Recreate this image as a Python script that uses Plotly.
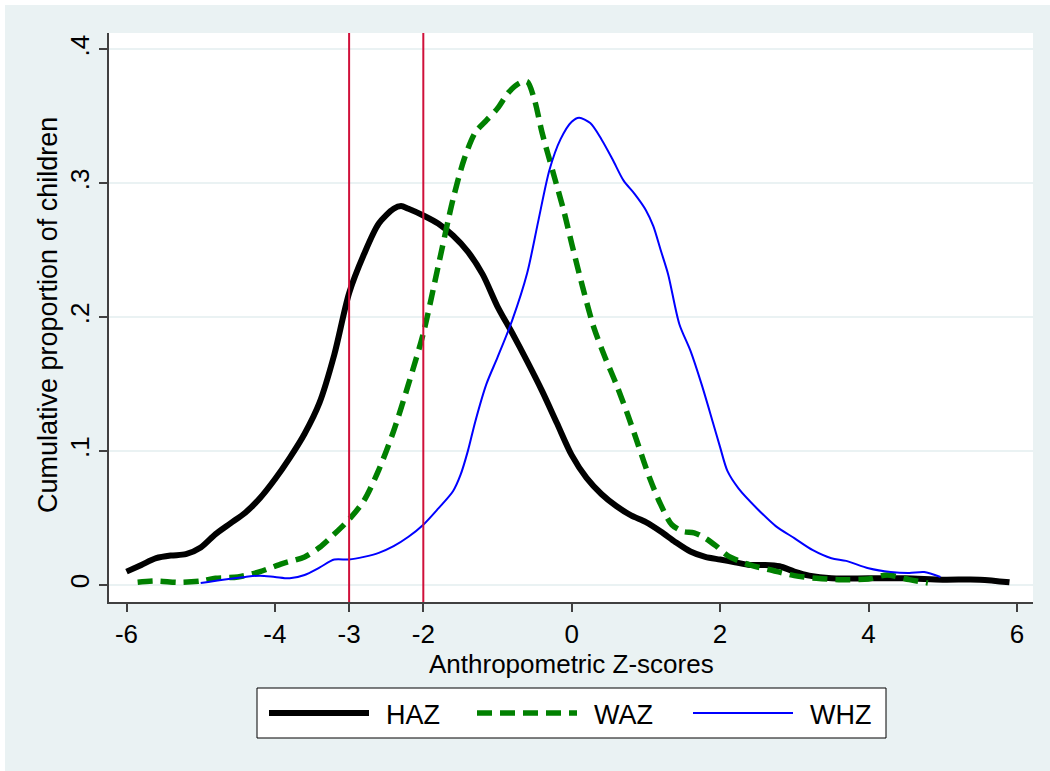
import plotly.graph_objects as go

# ---------------- data ----------------
haz_x = [-6.0, -5.8, -5.6, -5.4, -5.2, -5.0, -4.8, -4.6, -4.4, -4.2, -4.0, -3.8, -3.6, -3.4,
         -3.2, -3.0, -2.8, -2.6, -2.4, -2.3, -2.2, -2.0, -1.8, -1.6, -1.4, -1.2, -1.0, -0.8,
         -0.6, -0.4, -0.2, 0.0, 0.2, 0.4, 0.6, 0.8, 1.0, 1.2, 1.4, 1.6, 1.8, 2.0, 2.2, 2.4,
         2.6, 2.8, 3.0, 3.2, 3.5, 4.0, 4.5, 5.0, 5.5, 5.9]
haz_y = [0.010, 0.015, 0.020, 0.022, 0.023, 0.028, 0.038, 0.046, 0.054, 0.065, 0.079, 0.095,
         0.113, 0.136, 0.172, 0.218, 0.247, 0.270, 0.281, 0.283, 0.281, 0.276, 0.270, 0.261,
         0.249, 0.232, 0.208, 0.188, 0.167, 0.145, 0.121, 0.097, 0.080, 0.068, 0.059, 0.052,
         0.047, 0.040, 0.032, 0.025, 0.021, 0.019, 0.017, 0.015, 0.015, 0.014, 0.010, 0.007,
         0.005, 0.005, 0.005, 0.004, 0.004, 0.002]

waz_x = [-5.85, -5.6, -5.3, -5.0, -4.8, -4.5, -4.2, -3.9, -3.6, -3.4, -3.2, -3.0, -2.8, -2.6,
         -2.4, -2.2, -2.0, -1.8, -1.6, -1.45, -1.3, -1.15, -1.0, -0.85, -0.7, -0.6, -0.5,
         -0.4, -0.25, -0.1, 0.0, 0.15, 0.3, 0.45, 0.6, 0.75, 0.9, 1.05, 1.2, 1.35, 1.5, 1.65,
         1.8, 1.95, 2.1, 2.4, 2.7, 3.0, 3.3, 3.6, 4.0, 4.25, 4.55, 4.8]
waz_y = [0.002, 0.003, 0.002, 0.003, 0.005, 0.006, 0.010, 0.016, 0.021, 0.028, 0.038, 0.049,
         0.063, 0.086, 0.115, 0.150, 0.188, 0.238, 0.288, 0.318, 0.338, 0.347, 0.356, 0.368,
         0.375, 0.376, 0.362, 0.338, 0.308, 0.278, 0.255, 0.222, 0.192, 0.170, 0.150, 0.128,
         0.104, 0.080, 0.060, 0.045, 0.040, 0.039, 0.035, 0.029, 0.022, 0.015, 0.011, 0.007,
         0.005, 0.004, 0.0045, 0.0075, 0.004, 0.0015]

whz_x = [-5.0, -4.7, -4.4, -4.2, -4.0, -3.8, -3.6, -3.4, -3.2, -3.0, -2.8, -2.6, -2.4, -2.2,
         -2.0, -1.8, -1.6, -1.5, -1.4, -1.3, -1.15, -1.0, -0.8, -0.6, -0.45, -0.3, -0.15, 0.0,
         0.1, 0.25, 0.4, 0.55, 0.7, 0.85, 1.0, 1.1, 1.2, 1.3, 1.45, 1.6, 1.75, 1.9, 2.0, 2.1,
         2.25, 2.5, 2.75, 3.0, 3.25, 3.5, 3.7, 4.0, 4.3, 4.55, 4.75, 4.97]
whz_y = [0.0015, 0.004, 0.006, 0.007, 0.006, 0.005, 0.0075, 0.013, 0.019, 0.019, 0.021, 0.024,
         0.029, 0.036, 0.045, 0.057, 0.070, 0.082, 0.100, 0.122, 0.150, 0.170, 0.198, 0.233,
         0.272, 0.310, 0.333, 0.346, 0.349, 0.345, 0.333, 0.318, 0.302, 0.292, 0.280, 0.268,
         0.250, 0.232, 0.195, 0.175, 0.150, 0.122, 0.103, 0.085, 0.072, 0.057, 0.044, 0.035,
         0.026, 0.020, 0.018, 0.0125, 0.0097, 0.009, 0.0097, 0.006]

series_names = ["HAZ", "WAZ", "WHZ"]
cutoffs = [-3, -2]

x_tickvals = [-6, -4, -3, -2, 0, 2, 4, 6]
x_ticktext = ["-6", "-4", "-3", "-2", "0", "2", "4", "6"]
y_tickvals = [0, 0.1, 0.2, 0.3, 0.4]
y_ticktext = ["0", ".1", ".2", ".3", ".4"]

# ---------------- styling ----------------
W, H = 1050, 771
ML, MR, MT, MB = 109, 17, 33, 169
PW, PH = W - ML - MR, H - MT - MB
BG = "#EAF2F3"
FONT = "Liberation Sans, Arial, sans-serif"
FS = 27
TFS = 26

styles = [
    dict(color="black", width=6, dash="solid"),
    dict(color="#008000", width=5.5, dash="15px,8px"),
    dict(color="#0000FF", width=2, dash="solid"),
]


def px2x(px):
    return (px - ML) / PW


def py2y(py):
    return (H - MB - py) / PH


fig = go.Figure()
for name, xs, ys, st in zip(series_names, [haz_x, waz_x, whz_x], [haz_y, waz_y, whz_y], styles):
    fig.add_trace(go.Scatter(x=xs, y=ys, mode="lines", name=name,
                             line=dict(color=st["color"], width=st["width"], dash=st["dash"],
                                       shape="spline", smoothing=0.8),
                             showlegend=False))

shapes = []
for c in cutoffs:
    shapes.append(dict(type="line", xref="x", yref="paper", x0=c, x1=c, y0=0, y1=1,
                       line=dict(color="#D0103A", width=2), layer="above"))

# white strips at top and left (image border)
shapes.append(dict(type="rect", xref="paper", yref="paper", x0=px2x(0), x1=px2x(W),
                   y0=py2y(5), y1=py2y(0), fillcolor="white", line=dict(width=0), layer="below"))
shapes.append(dict(type="rect", xref="paper", yref="paper", x0=px2x(0), x1=px2x(5),
                   y0=py2y(H), y1=py2y(0), fillcolor="white", line=dict(width=0), layer="below"))

# custom legend (Stata-style, long line samples)
shapes.append(dict(type="rect", xref="paper", yref="paper", x0=px2x(257), x1=px2x(886),
                   y0=py2y(738), y1=py2y(688), fillcolor="white",
                   line=dict(color="black", width=1), layer="below"))
annotations = []
leg_line_x = [269, 477, 693]
leg_text_x = [384, 592, 808]
for name, st, lx, tx in zip(series_names, styles, leg_line_x, leg_text_x):
    shapes.append(dict(type="line", xref="paper", yref="paper", x0=px2x(lx), x1=px2x(lx + 100),
                       y0=py2y(713), y1=py2y(713),
                       line=dict(color=st["color"], width=st["width"], dash=st["dash"])))
    annotations.append(dict(text=name, xref="paper", yref="paper", x=px2x(tx), y=py2y(715),
                            xanchor="left", yanchor="middle", showarrow=False,
                            font=dict(family=FONT, size=FS, color="black")))

annotations.append(dict(text="Anthropometric Z-scores", xref="paper", yref="paper",
                        x=px2x(571), y=py2y(664), xanchor="center", yanchor="middle",
                        showarrow=False, borderpad=0,
                        font=dict(family=FONT, size=FS - 1, color="black")))
annotations.append(dict(text="Cumulative proportion of children", xref="paper", yref="paper",
                        x=px2x(48), y=py2y(315), xanchor="center", yanchor="middle",
                        textangle=-90, showarrow=False,
                        font=dict(family=FONT, size=FS, color="black")))

fig.update_layout(
    width=W, height=H,
    margin=dict(l=ML, r=MR, t=MT, b=MB, pad=0),
    paper_bgcolor=BG, plot_bgcolor="white",
    font=dict(family=FONT, size=FS, color="black"),
    shapes=shapes, annotations=annotations,
    showlegend=False,
)
fig.update_xaxes(range=[-6.236, 6.217], tickvals=x_tickvals, ticktext=x_ticktext,
                 showgrid=False, zeroline=False, showline=True, linecolor="#404040",
                 linewidth=1.5, ticks="outside", ticklen=8, tickcolor="#404040", tickwidth=1.5,
                 tickfont=dict(family=FONT, size=TFS, color="black"))
fig.update_yaxes(range=[-0.0127, 0.4123], tickvals=y_tickvals, ticktext=y_ticktext,
                 showgrid=True, gridcolor=BG, gridwidth=2, zeroline=False, showline=True,
                 linecolor="#404040", linewidth=1.5, ticks="outside", ticklen=8,
                 tickcolor="#404040", tickwidth=1.5, tickangle=-90,
                 tickfont=dict(family=FONT, size=TFS, color="black"))

fig.write_html("out.html")
